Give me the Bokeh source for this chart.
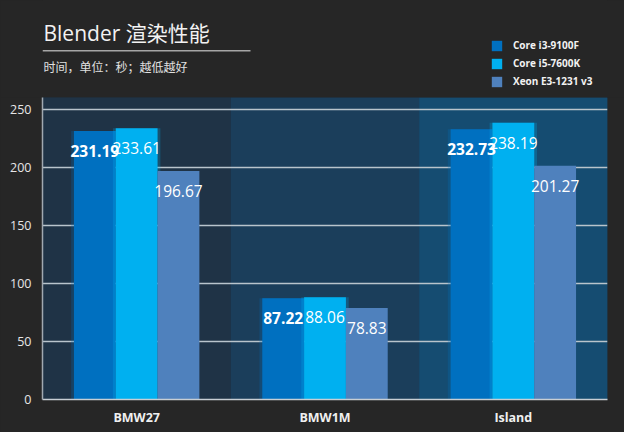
from bokeh.plotting import figure
from bokeh.models import (ColumnDataSource, FactorRange, FixedTicker, Legend, LegendItem,
                          Label, BoxAnnotation, Range1d)
from bokeh.layouts import column
from bokeh.transform import dodge
from bokeh.core.properties import value
from bokeh.embed import file_html
from bokeh.resources import INLINE

# ---- data ----
categories = ["BMW27", "BMW1M", "Island"]
series_names = ["Core i3-9100F", "Core i5-7600K", "Xeon E3-1231 v3"]
i3_9100f = [231.19, 87.22, 232.73]
i5_7600k = [233.61, 88.06, 238.19]
xeon_1231 = [196.67, 78.83, 201.27]
y_ticks = [0, 50, 100, 150, 200, 250]
Y_MAX = 260

title_text = "Blender 渲染性能"
subtitle_text = "时间，单位：秒；越低越好"

# ---- styles ----
BG = "#262626"
bar_colors = ["#0070c0", "#00b0f0", "#4f81bd"]
band_colors = ["#1f3346", "#1b3e5b", "#154c71"]
LAT = "Open Sans"
CJK = "Open Sans, Noto Sans CJK SC"
W_TOTAL = 624
H_HEAD = 97
H_MAIN = 335

# ---------------- header ----------------
# (its frame is aligned with the chart frame below, so screen x is measured from the chart's left edge)
h = figure(width=W_TOTAL, height=H_HEAD, x_range=Range1d(0, 1), y_range=Range1d(0, 1),
           x_axis_type=None, y_axis_type=None, min_border=0,
           output_backend="svg", toolbar_location=None)
h.grid.visible = False
h.background_fill_color = BG
h.border_fill_color = BG
h.outline_line_color = None

h.add_layout(Label(x=1, y=65, x_units="screen", y_units="screen", text=title_text,
                   text_color="#f2f2f2", text_font=CJK, text_font_size="21px",
                   text_baseline="alphabetic"))
h.add_layout(BoxAnnotation(left=0, right=208, bottom=46, top=47.6, left_units="screen",
                           right_units="screen", bottom_units="screen", top_units="screen",
                           fill_color="#a6a6a6", fill_alpha=1, line_color=None))
h.add_layout(Label(x=1, y=30.5, x_units="screen", y_units="screen", text=subtitle_text,
                   text_color="#e0e0e0", text_font=CJK, text_font_size="12px",
                   text_baseline="middle"))

# zero-size proxies that only carry the legend swatch colours
legend_rs = [h.vbar(x=[0], top=[0], bottom=[0], width=0, fill_color=c, line_color=None)
             for c in bar_colors]
legend = Legend(items=[LegendItem(label=n, renderers=[r]) for n, r in zip(series_names, legend_rs)],
                location=(448, 9), orientation="vertical",
                border_line_color=None, background_fill_alpha=0, padding=0, margin=0,
                spacing=4, glyph_width=13, glyph_height=13, label_height=12,
                label_standoff=10, label_text_color="#f2f2f2", label_text_font=LAT,
                label_text_font_style="bold", label_text_font_size="10px")
h.add_layout(legend)

# ---------------- main chart ----------------
src = ColumnDataSource(dict(cat=categories, i3=i3_9100f, i5=i5_7600k, xeon=xeon_1231,
                            i3_t=[f"{v:.2f}" for v in i3_9100f],
                            i5_t=[f"{v:.2f}" for v in i5_7600k],
                            xeon_t=[f"{v:.2f}" for v in xeon_1231],
                            band=band_colors, ymax=[Y_MAX] * 3, zero=[0] * 3))

p = figure(x_range=FactorRange(factors=categories, range_padding=0),
           y_range=(0, Y_MAX), width=W_TOTAL, height=H_MAIN,
           min_border_left=42, min_border_right=17, min_border_top=0, min_border_bottom=33,
           output_backend="svg", toolbar_location=None)
p.background_fill_color = band_colors[0]
p.border_fill_color = BG
p.outline_line_color = None

p.vbar(x="cat", width=1, bottom="zero", top="ymax", source=src, fill_color="band",
       line_color=None, level="image")

cols = ["i3", "i5", "xeon"]
offsets = [-0.222, 0.0, 0.222]
W = 0.222
for col, off, color in zip(cols, offsets, bar_colors):
    if col != "xeon":
        p.vbar(x=dodge("cat", off, range=p.x_range), top=col, width=W + 0.03, source=src,
               fill_color=color, fill_alpha=0.25, line_color=None)
    p.vbar(x=dodge("cat", off, range=p.x_range), top=col, width=W, source=src,
           fill_color=color, line_color=None)

for col, off, bold in zip(cols, offsets, [True, False, False]):
    p.text(x=dodge("cat", off, range=p.x_range), y=col, text=col + "_t", source=src,
           text_align="center", text_baseline="middle", y_offset=20,
           text_color="#ffffff", text_font=value(LAT), text_font_size="15.5px",
           text_font_style="bold" if bold else "normal")

p.yaxis.ticker = FixedTicker(ticks=y_ticks)
p.yaxis.major_tick_line_color = None
p.yaxis.major_tick_out = 0
p.yaxis.major_tick_in = 0
p.yaxis.minor_tick_line_color = None
p.yaxis.axis_line_color = "#a0a8b0"
p.yaxis.axis_line_width = 1.5
p.yaxis.major_label_text_color = "#e6e6e6"
p.yaxis.major_label_text_font = LAT
p.yaxis.major_label_text_font_size = "12.5px"
p.yaxis.major_label_standoff = 11

p.xaxis.major_tick_line_color = None
p.xaxis.major_tick_out = 0
p.xaxis.major_tick_in = 0
p.xaxis.axis_line_color = "#c8ced4"
p.xaxis.axis_line_width = 1.5
p.xaxis.major_label_text_color = "#f0f0f0"
p.xaxis.major_label_text_font = LAT
p.xaxis.major_label_text_font_style = "bold"
p.xaxis.major_label_text_font_size = "12.5px"
p.xaxis.major_label_standoff = 9

p.xgrid.grid_line_color = None
p.ygrid.grid_line_color = "#b9c4cc"
p.ygrid.grid_line_width = 1.5
p.ygrid.ticker = FixedTicker(ticks=y_ticks[1:])

layout = column(h, p, spacing=0)
layout.styles = {"background-color": BG}

open("out.html", "w").write(file_html(layout, INLINE))
